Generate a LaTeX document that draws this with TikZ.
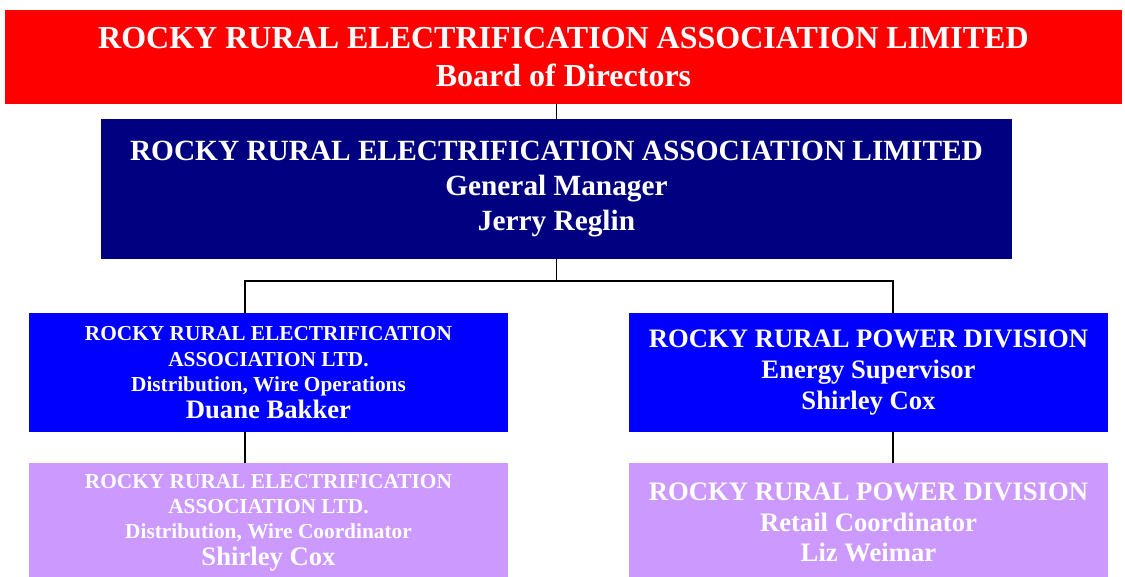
\documentclass[tikz,border=0pt]{standalone}
\usepackage{fontspec}
\setmainfont{Liberation Serif}
\usetikzlibrary{positioning}

\definecolor{boardred}{HTML}{FF0000}
\definecolor{gmnavy}{HTML}{000080}
\definecolor{divblue}{HTML}{0000FF}
\definecolor{lilac}{HTML}{CC99FF}

\newcommand{\boxfont}[2]{\bfseries\fontsize{#1}{#2}\selectfont}

\begin{document}
\begin{tikzpicture}[x=0.75pt, y=-0.75pt]
    % styles
    \tikzstyle{unit}=[rectangle,inner sep=0pt,text=white,align=center]
    \tikzstyle{wide}=[unit,minimum width=359.25pt,minimum height=89.25pt]
    \tikzstyle{link}=[line width=1.4pt]

    \useasboundingbox (0,0) rectangle (1125,576);

    % board and manager
    \node[unit,fill=boardred,minimum width=837.75pt,minimum height=70.5pt,
          font=\boxfont{24}{28.5}] (board) at (563.5,57)
        {ROCKY RURAL ELECTRIFICATION ASSOCIATION LIMITED\\Board of Directors};
    \node[unit,fill=gmnavy,minimum width=683.25pt,minimum height=105pt,
          font=\boxfont{22}{26.25}] (gm) at (556.5,189)
        {ROCKY RURAL ELECTRIFICATION ASSOCIATION LIMITED\\General Manager\\Jerry Reglin};

    % divisions
    \node[wide,fill=divblue,font=\boxfont{16}{19}] (wireops) at (268.5,372.5)
        {ROCKY RURAL ELECTRIFICATION\\ASSOCIATION LTD.\\Distribution, Wire Operations\\[1pt]
         {\boxfont{20}{24}Duane Bakker}};
    \node[wide,fill=divblue,font=\boxfont{20}{23}] (energy) at (868.5,372.5)
        {ROCKY RURAL POWER DIVISION\\Energy Supervisor\\Shirley Cox};

    % coordinators
    \node[wide,fill=lilac,font=\boxfont{16}{19}] (wirecoord) at (268.5,522.5)
        {ROCKY RURAL ELECTRIFICATION\\ASSOCIATION LTD.\\Distribution, Wire Coordinator\\[1pt]
         {\boxfont{20}{24}Shirley Cox}};
    \node[wide,fill=lilac,font=\boxfont{20}{23}] (retail) at (868.5,522.5)
        {ROCKY RURAL POWER DIVISION\\Retail Coordinator\\Liz Weimar};

    % lines
    \draw[link] (board.south -| gm.north) -- (gm.north);
    \draw[link] (gm.south) -- ++(0,22) -| ([xshift=-17.6pt]wireops.north);
    \draw[link] (gm.south) -- ++(0,22) -| ([xshift=18.4pt]energy.north);
    \draw[link] ([xshift=-17.6pt]wireops.south) -- ([xshift=-17.6pt]wirecoord.north);
    \draw[link] ([xshift=18.4pt]energy.south) -- ([xshift=18.4pt]retail.north);
\end{tikzpicture}
\end{document}
